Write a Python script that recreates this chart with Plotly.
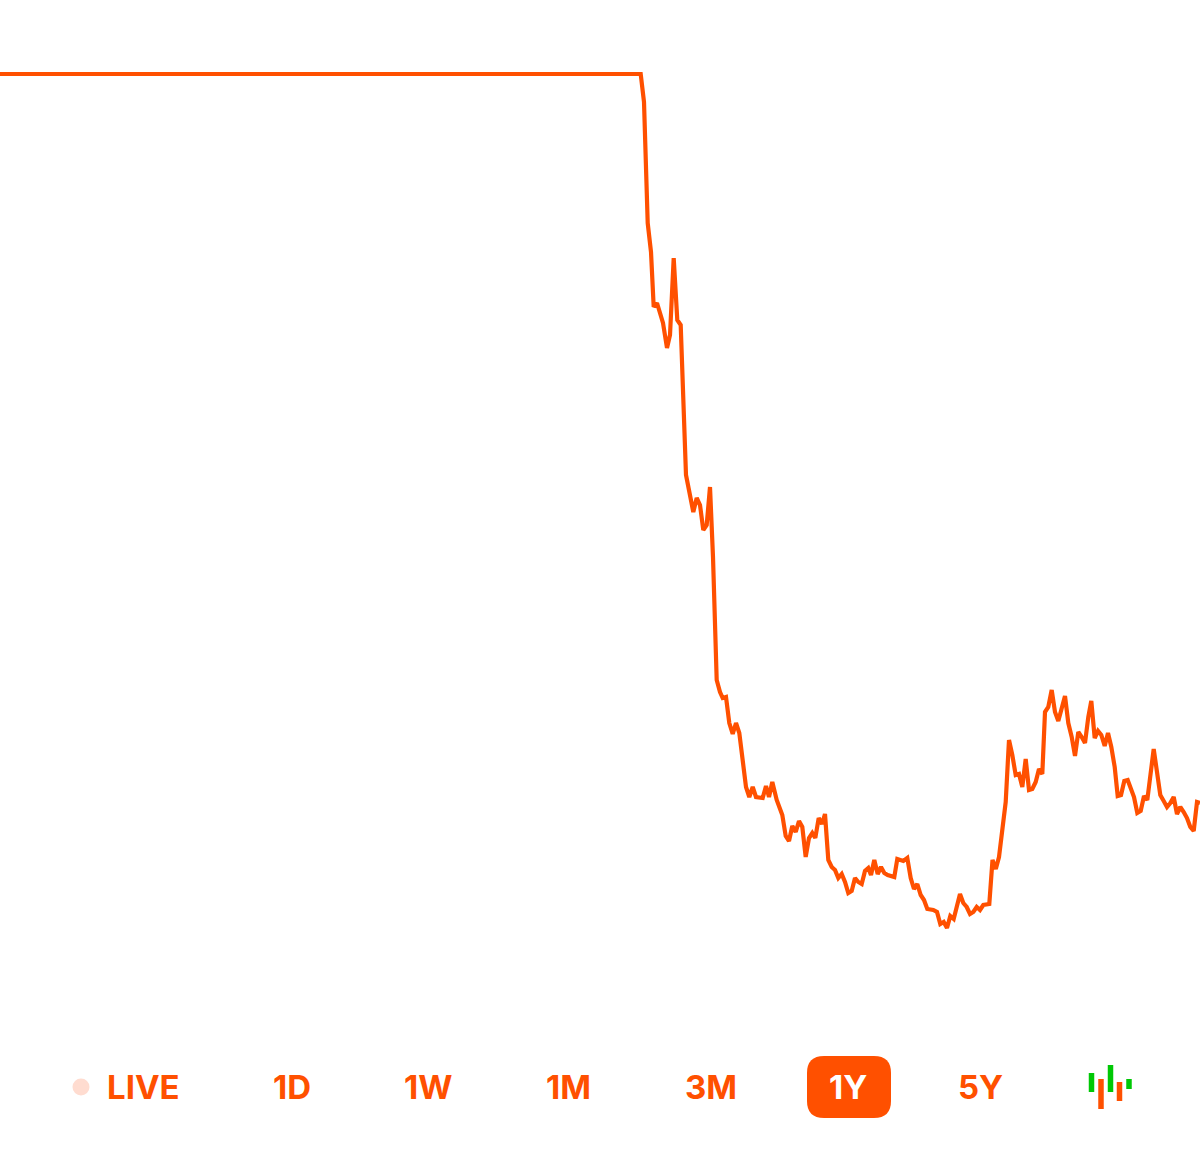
import plotly.graph_objects as go

ORANGE = "#FF5000"
GREEN = "#00C805"

# price line (axis units match the 1200x1159 frame)
days = [0, 640.7, 644, 647.7, 651, 653.7, 657, 663, 667, 670, 673.7, 677.3, 680.7,
        686, 693.3, 696.7, 700, 703.3, 706.7, 710, 713, 716.7, 720, 722.7, 726,
        729.3, 732.7, 736, 739.3, 742.7, 746, 749.3, 752.7, 756, 762.7, 766, 769,
        772.3, 776.7, 782.3, 785.7, 789, 792.3, 795.7, 799, 802.3, 805.7, 809,
        812.3, 815.3, 818.7, 822, 825, 828.3, 831.7, 835, 838.3, 841.7, 845,
        848.3, 851.7, 855, 858.3, 861.7, 865, 868.3, 871, 874.3, 877.7, 881,
        884.3, 887.7, 894.3, 897.3, 903.3, 907.3, 910.7, 914, 917.3, 920.7, 924,
        927.3, 933.3, 937, 940.3, 943.7, 947, 950.3, 953.7, 960, 963.3, 966.7,
        970, 973.3, 976.7, 980, 983.3, 989.3, 992.5, 995.8, 999, 1005.7, 1009,
        1012.3, 1015.7, 1019, 1022.3, 1025.7, 1029, 1032.3, 1035.7, 1039, 1042.3,
        1045, 1048.3, 1051.7, 1055, 1058.3, 1065, 1068.3, 1071.7, 1075, 1078.3,
        1081.7, 1085, 1088.3, 1091.3, 1094.7, 1098, 1101.3, 1104.7, 1108, 1111.3,
        1114.7, 1117.7, 1121, 1124.3, 1127.7, 1131, 1134, 1137.3, 1140.7, 1144,
        1147.3, 1153.7, 1160.3, 1163.7, 1167, 1170.3, 1173.7, 1177, 1180.3,
        1183.7, 1187, 1190.3, 1193.7, 1197, 1200]
prices = [74, 74, 102, 223, 252, 307, 303, 323, 348, 335, 258, 320, 325,
          475, 512, 498, 505, 530, 525, 487, 557, 680, 692, 698, 697,
          723, 734, 723, 733, 765, 787, 797, 787, 797, 798, 786, 797,
          782, 800, 815, 836, 841, 826, 832, 821, 827, 857, 838,
          833, 838, 818, 824, 814, 860, 867, 870, 878, 874, 882,
          893, 891, 878, 882, 884, 871, 868, 875, 860, 874, 867,
          873, 875, 877, 859, 861, 858, 878, 889, 884, 895, 900,
          909, 910, 912, 924, 922, 928, 916, 919, 894, 903, 907,
          914, 912, 907, 910, 905, 904, 860, 869, 857, 802, 740,
          755, 775, 774, 787, 759, 790, 789, 782, 769, 774,
          712, 707, 690, 712, 721, 696, 723, 737, 756, 732,
          737, 743, 717, 701, 738, 731, 735, 746, 733, 747,
          767, 796, 795, 781, 780, 790, 797, 813, 811, 796,
          800, 749, 795, 801, 807, 803, 797, 814, 807,
          812, 818, 827, 831, 802, 803]

# range buttons along the bottom
labels = ["LIVE", "1D", "1W", "1M", "3M", "1Y", "5Y"]
label_x = [143, 292, 428, 568, 711, 848, 980]
label_colors = [ORANGE, ORANGE, ORANGE, ORANGE, ORANGE, "white", ORANGE]

# candlestick icon
icon_x = [1091.5, 1101, 1110.5, 1119.5, 1129]
icon_top = [1073, 1079, 1065, 1082, 1079]
icon_len = [19, 30, 27, 19, 10]
icon_colors = [GREEN, ORANGE, GREEN, ORANGE, GREEN]

fig = go.Figure()
fig.add_trace(go.Scatter(x=days, y=prices, mode="lines",
                         line=dict(color=ORANGE, width=4.2, shape="linear")))
fig.add_trace(go.Scatter(x=[81], y=[1087], mode="markers",
                         marker=dict(size=17, color="#FFDCD0")))
fig.add_trace(go.Bar(x=icon_x, y=icon_len, base=icon_top, width=5.5,
                     marker=dict(color=icon_colors, line_width=0)))

for name, xpos, col in zip(labels, label_x, label_colors):
    fig.add_annotation(x=xpos, y=1087, text=name, showarrow=False,
                       xanchor="center", yanchor="middle",
                       font=dict(family="Inter", size=33, color=col, weight=700))

# selected button, rounded rect
x0, x1, y0, y1, r = 807, 891, 1056, 1118, 17
path = (f"M {x0+r} {y0} L {x1-r} {y0} Q {x1} {y0} {x1} {y0+r} L {x1} {y1-r} "
        f"Q {x1} {y1} {x1-r} {y1} L {x0+r} {y1} Q {x0} {y1} {x0} {y1-r} "
        f"L {x0} {y0+r} Q {x0} {y0} {x0+r} {y0} Z")
fig.add_shape(type="path", path=path, fillcolor=ORANGE, line_width=0, layer="below")

fig.update_layout(
    width=1200, height=1159, margin=dict(l=0, r=0, t=0, b=0),
    paper_bgcolor="white", plot_bgcolor="white", showlegend=False,
    xaxis=dict(range=[0, 1200], visible=False),
    yaxis=dict(range=[1159, 0], visible=False),
)

# page has a default body margin, drop it so the chart fills the window
fig.write_html("out.html", config={"displayModeBar": False},
               post_script="document.body.style.margin='0';document.documentElement.style.overflow='hidden';")
